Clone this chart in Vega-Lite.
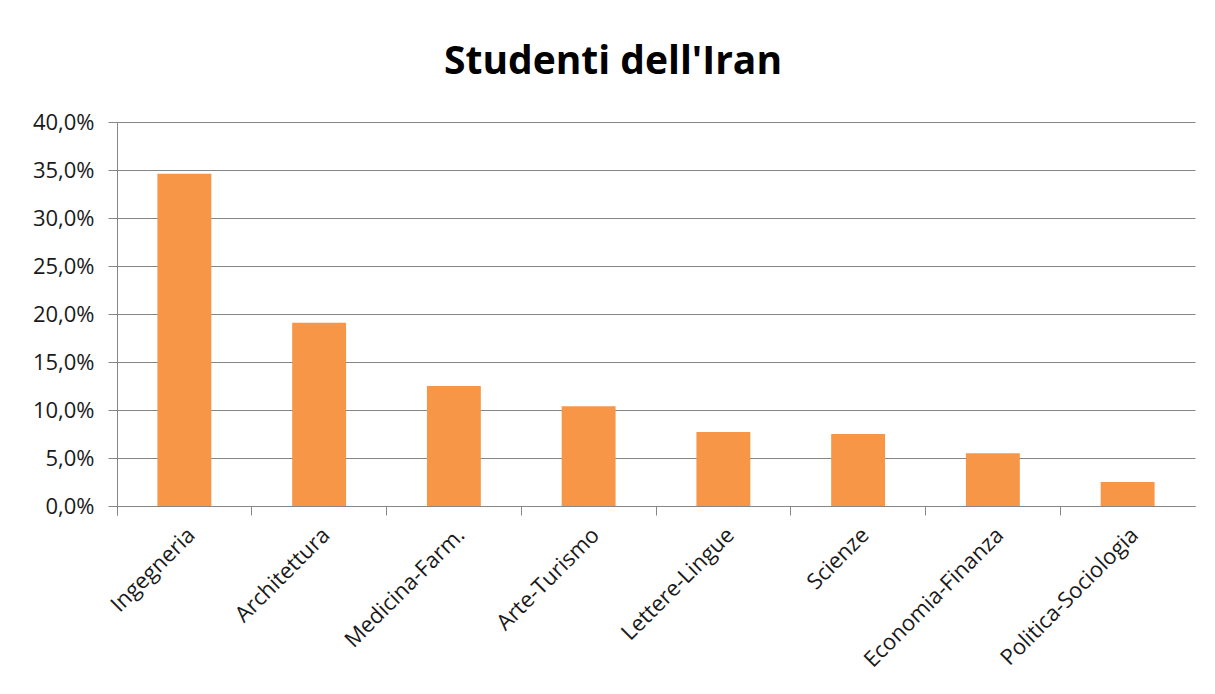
{
  "$schema": "https://vega.github.io/schema/vega-lite/v6.json",
  "autosize": "none",
  "width": 1078,
  "height": 384,
  "padding": {"left": 117, "top": 122, "right": 20, "bottom": 188},
  "background": "white",
  "title": {
    "text": "Studenti dell'Iran",
    "font": "Open Sans",
    "fontSize": 39,
    "fontWeight": "bold",
    "color": "#000000",
    "anchor": "middle",
    "dx": -43,
    "offset": 29
  },
  "data": {
    "values": [
      {"facolta": "Ingegneria", "quota": 0.346},
      {"facolta": "Architettura", "quota": 0.191},
      {"facolta": "Medicina-Farm.", "quota": 0.125},
      {"facolta": "Arte-Turismo", "quota": 0.104},
      {"facolta": "Lettere-Lingue", "quota": 0.077},
      {"facolta": "Scienze", "quota": 0.075},
      {"facolta": "Economia-Finanza", "quota": 0.055},
      {"facolta": "Politica-Sociologia", "quota": 0.025}
    ]
  },
  "mark": {"type": "bar", "color": "#F79646", "width": {"band": 0.4}},
  "encoding": {
    "x": {
      "field": "facolta",
      "type": "nominal",
      "sort": null,
      "title": null,
      "scale": {"paddingInner": 0, "paddingOuter": 0},
      "axis": {
        "labelAngle": -45,
        "labelAlign": "right",
        "labelBaseline": "top",
        "labelFont": "Open Sans",
        "labelFontSize": 22,
        "labelColor": "#1a1a1a",
        "labelPadding": 9,
        "labelLimit": 400,
        "labelOverlap": false,
        "bandPosition": 0,
        "tickExtra": true,
        "tickSize": 9,
        "tickColor": "#868686",
        "domainColor": "#868686",
        "grid": false
      }
    },
    "y": {
      "field": "quota",
      "type": "quantitative",
      "title": null,
      "scale": {"domain": [0, 0.4], "nice": false},
      "axis": {
        "values": [0, 0.05, 0.1, 0.15, 0.2, 0.25, 0.3, 0.35, 0.4],
        "format": ".1%",
        "labelFont": "Open Sans",
        "labelFontSize": 22,
        "labelColor": "#1a1a1a",
        "labelPadding": 14,
        "tickSize": 9,
        "tickColor": "#868686",
        "domainColor": "#868686",
        "gridColor": "#868686",
        "gridWidth": 1
      }
    }
  },
  "config": {
    "view": {"stroke": null},
    "locale": {
      "number": {"decimal": ",", "thousands": ".", "grouping": [3], "currency": ["", " €"]}
    }
  }
}
